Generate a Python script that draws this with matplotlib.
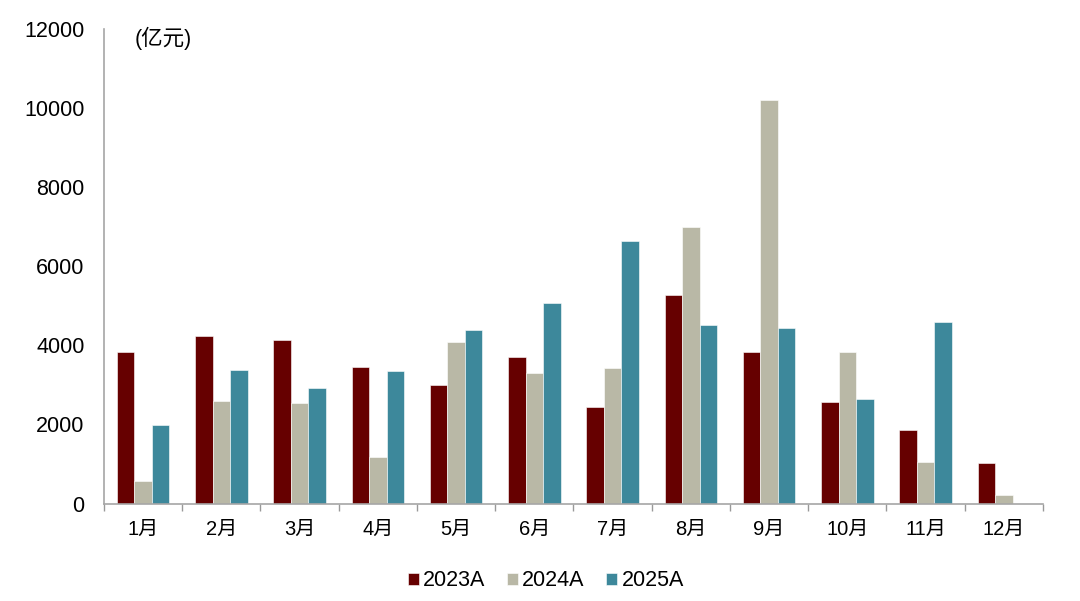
import matplotlib
matplotlib.use("Agg")
import matplotlib.pyplot as plt
import numpy as np

months = ["1月", "2月", "3月", "4月", "5月", "6月", "7月", "8月", "9月", "10月", "11月", "12月"]
y2023 = [3835, 4229, 4127, 3465, 2987, 3713, 2447, 5274, 3840, 2574, 1857, 1013]
y2024 = [565, 2603, 2534, 1181, 4093, 3291, 3418, 6987, 10194, 3823, 1038, 203]
y2025 = [1990, 3373, 2928, 3359, 4388, 5063, 6641, 4515, 4430, 2633, 4599, np.nan]
series_names = ["2023A", "2024A", "2025A"]
colors = ["#660000", "#B9B8A6", "#3D889B"]
yticks = [0, 2000, 4000, 6000, 8000, 10000, 12000]

plt.rcParams['font.family'] = ['Liberation Sans', 'Noto Sans CJK SC', 'DejaVu Sans']

fig = plt.figure(figsize=(10.8, 6.01), dpi=100)
ax = fig.add_axes([0.0963, 0.1622, 0.8694, 0.7895])

x = np.arange(len(months))
w = 0.224
for i, (vals, c, name) in enumerate(zip([y2023, y2024, y2025], colors, series_names)):
    ax.bar(x + (i - 1) * w, vals, width=w, color=c, label=name,
           edgecolor="white", linewidth=0.4)

ax.set_xlim(-0.5, len(months) - 0.5)
ax.set_ylim(0, 12000)
ax.set_yticks(yticks)
ax.set_yticklabels([str(t) for t in yticks], fontsize=15.5)
ax.tick_params(axis='y', length=0, pad=14)

ax.set_xticks(x)
ax.set_xticklabels(months, fontsize=14.5)
ax.tick_params(axis='x', length=0, pad=12)
ax.set_xticks(np.arange(-0.5, len(months) + 0.5, 1), minor=True)
ax.tick_params(axis='x', which='minor', length=5, direction='out', color='#999999', width=1)

for s in ['top', 'right']:
    ax.spines[s].set_visible(False)
for s in ['left', 'bottom']:
    ax.spines[s].set_color('#A6A6A6')
    ax.spines[s].set_linewidth(1.2)

ax.text(0.033, 0.981, "(亿元)", transform=ax.transAxes, fontsize=15.5,
        va='center', ha='left')

fig.legend(loc='center', bbox_to_anchor=(546 / 1080, 1 - 581 / 601), ncol=3,
           frameon=False, fontsize=15.5, handlelength=0.5, handleheight=0.5,
           handletextpad=0.2, columnspacing=1.0)

fig.savefig("out.png", dpi=100)
